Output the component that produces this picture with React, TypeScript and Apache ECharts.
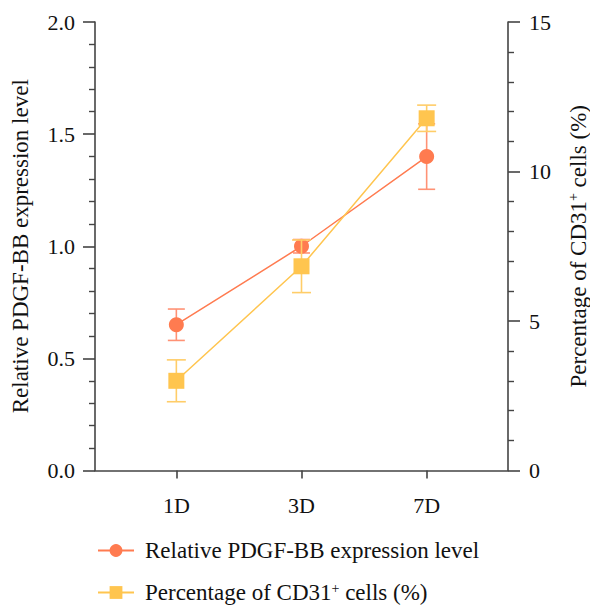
import React, { useEffect, useRef } from "react";
import * as echarts from "echarts";

const categories = ["1D", "3D", "7D"];
const pdgfMean = [0.65, 1.0, 1.4];
const pdgfErr = [0.07, 0.03, 0.146];
const cd31Mean = [3.0, 6.83, 11.78];
const cd31Err = [0.7, 0.88, 0.44];
const leftTicks = [0, 0.5, 1.0, 1.5, 2.0];
const rightTicks = [0, 5, 10, 15];

const PDGF_NAME = "Relative PDGF-BB expression level";
const CD31_NAME = "Percentage of CD31+ cells (%)";

const FONT = "'Liberation Serif', 'Times New Roman', serif";
const ORANGE = "#FF7B50";
const ORANGE_ERR = "#FF9275";
const YELLOW = "#FFC54F";
const YELLOW_ERR = "#FFCD68";
const AXIS = "#444444";

function errRender(color: string, half: number) {
  return (params: any, api: any) => {
    const x = api.value(0);
    const lo = api.value(1);
    const hi = api.value(2);
    const pHi = api.coord([x, hi]);
    const pLo = api.coord([x, lo]);
    const style = { stroke: color, lineWidth: 1.6 };
    return {
      type: "group",
      children: [
        { type: "line", shape: { x1: pHi[0], y1: pHi[1], x2: pLo[0], y2: pLo[1] }, style },
        { type: "line", shape: { x1: pHi[0] - half, y1: pHi[1], x2: pHi[0] + half, y2: pHi[1] }, style },
        { type: "line", shape: { x1: pLo[0] - half, y1: pLo[1], x2: pLo[0] + half, y2: pLo[1] }, style },
      ],
    };
  };
}

export default function App() {
  const ref = useRef<HTMLDivElement>(null);
  useEffect(() => {
    if (!ref.current) return;
    const chart = echarts.init(ref.current, null, { renderer: "svg" });
    const xs = categories.map((_, i) => i + 1);
    const pdgfLine = xs.map((x, i) => [x, pdgfMean[i]]);
    const cd31Line = xs.map((x, i) => [x, cd31Mean[i]]);
    const pdgfBars = xs.map((x, i) => [x, pdgfMean[i] - pdgfErr[i], pdgfMean[i] + pdgfErr[i]]);
    const cd31Bars = xs.map((x, i) => [x, cd31Mean[i] - cd31Err[i], cd31Mean[i] + cd31Err[i]]);
    const supRich = {
      sup: { fontSize: 14, fontFamily: FONT, color: "#111", verticalAlign: "top", padding: [0, 0, 10, 0] },
    };
    chart.setOption({
      animation: false,
      backgroundColor: "#ffffff",
      textStyle: { fontFamily: FONT, color: "#111" },
      grid: { left: 95, right: 82, top: 22, bottom: 137.5, containLabel: false, outerBoundsMode: "none" },
      legend: {
        orient: "vertical",
        left: 97,
        top: 539,
        padding: 0,
        itemWidth: 36,
        itemHeight: 16,
        itemGap: 19,
        data: [PDGF_NAME, CD31_NAME],
        formatter: (name: string) => name.replace("CD31+", "CD31{sup|+}"),
        textStyle: {
          fontFamily: FONT,
          fontSize: 23,
          color: "#111",
          lineHeight: 23,
          padding: [0, 0, 0, 6],
          rich: supRich,
        },
      },
      xAxis: {
        type: "value",
        min: 0.35,
        max: 3.65,
        splitLine: { show: false },
        axisLine: { lineStyle: { color: AXIS, width: 1.6 } },
        axisTick: { customValues: xs, length: 8, lineStyle: { color: AXIS, width: 1.6 } },
        axisLabel: {
          customValues: xs,
          formatter: (v: number) => categories[Math.round(v) - 1] ?? "",
          fontFamily: FONT,
          fontSize: 22,
          color: "#111",
          margin: 24,
        },
      },
      yAxis: [
        {
          type: "value",
          position: "left",
          min: leftTicks[0],
          max: leftTicks[leftTicks.length - 1],
          interval: 0.5,
          splitLine: { show: false },
          axisLine: { show: true, lineStyle: { color: AXIS, width: 1.6 } },
          axisTick: { show: true, length: 12, lineStyle: { color: AXIS, width: 1.6 } },
          minorTick: { show: true, splitNumber: 5, length: 6, lineStyle: { color: AXIS, width: 1.4 } },
          axisLabel: {
            formatter: (v: number) => v.toFixed(1),
            fontFamily: FONT,
            fontSize: 22,
            color: "#111",
            margin: 20,
          },
          name: PDGF_NAME,
          nameLocation: "middle",
          nameGap: 63,
          nameTextStyle: { fontFamily: FONT, fontSize: 23, color: "#111" },
        },
        {
          type: "value",
          position: "right",
          min: rightTicks[0],
          max: rightTicks[rightTicks.length - 1],
          interval: 5,
          splitLine: { show: false },
          axisLine: { show: true, lineStyle: { color: AXIS, width: 1.6 } },
          axisTick: { show: true, length: 12, lineStyle: { color: AXIS, width: 1.6 } },
          minorTick: { show: true, splitNumber: 5, length: 6, lineStyle: { color: AXIS, width: 1.4 } },
          axisLabel: { fontFamily: FONT, fontSize: 22, color: "#111", margin: 21 },
          name: "Percentage of CD31{sup|+} cells (%)",
          nameLocation: "middle",
          nameGap: 58,
          nameTextStyle: { fontFamily: FONT, fontSize: 23, color: "#111", rich: supRich },
        },
      ],
      series: [
        {
          name: "pdgfErr",
          type: "custom",
          yAxisIndex: 0,
          z: 2,
          renderItem: errRender(ORANGE_ERR, 8.5),
          data: pdgfBars,
          encode: { x: 0, y: [1, 2] },
        },
        {
          name: PDGF_NAME,
          type: "line",
          yAxisIndex: 0,
          z: 3,
          data: pdgfLine,
          symbol: "circle",
          symbolSize: 15,
          itemStyle: { color: ORANGE },
          lineStyle: { color: ORANGE, width: 1.5 },
        },
        {
          name: "cd31Err",
          type: "custom",
          yAxisIndex: 1,
          z: 4,
          renderItem: errRender(YELLOW_ERR, 9.5),
          data: cd31Bars,
          encode: { x: 0, y: [1, 2] },
        },
        {
          name: CD31_NAME,
          type: "line",
          yAxisIndex: 1,
          z: 5,
          data: cd31Line,
          symbol: "rect",
          symbolSize: 16,
          itemStyle: { color: YELLOW },
          lineStyle: { color: YELLOW, width: 1.5 },
        },
      ],
    });
    return () => chart.dispose();
  }, []);
  return <div ref={ref} style={{ width: 590, height: 608, position: "absolute", left: 0, top: 0 }} />;
}
